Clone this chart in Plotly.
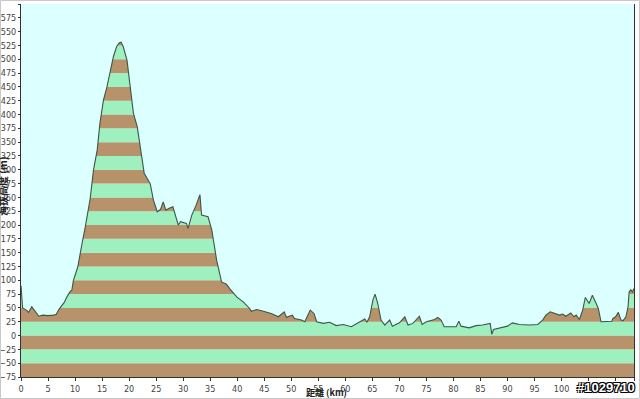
import plotly.graph_objects as go

# ---- data ----
dist_km = [0.0, 0.15, 0.3, 1.0, 1.4, 2.0, 2.5, 3.0, 3.3, 4.0, 5.0, 6.0, 6.5, 7.0, 7.5, 8.0, 8.5, 9.1, 9.4,
           9.7, 10.5, 10.9, 11.3, 11.9, 12.5, 12.8, 13.4, 14.1, 14.6, 15.25, 15.9, 16.4, 17.1, 17.7, 18.2,
           18.5, 18.9, 19.6, 20.2, 20.8, 21.5, 22.2, 22.8, 23.3, 23.6, 23.9, 24.5, 25.2, 25.8, 26.3, 26.8,
           27.3, 28.1, 28.5, 29.1, 29.5, 30.6, 30.9, 31.6, 32.4, 33.1, 33.4, 34.6, 35.3, 35.6, 36.2, 37.1,
           38.0, 38.6, 39.3, 39.9, 41.1, 42.3, 42.6, 43.6, 44.5, 46.0, 46.3, 47.6, 48.7, 49.1, 50.2, 50.6,
           51.9, 52.5, 52.9, 53.5, 54.2, 54.7, 55.9, 57.1, 58.3, 59.6, 61.1, 62.7, 63.6, 64.0, 64.5, 65.1,
           65.5, 66.0, 66.6, 67.3, 68.2, 68.7, 70.0, 71.0, 71.6, 72.5, 73.7, 74.2, 75.0, 76.5, 77.1, 77.7,
           78.3, 80.5, 81.0, 81.4, 82.9, 84.2, 85.4, 86.8, 87.1, 87.4, 88.5, 90.0, 90.9, 92.2, 94.0, 95.6,
           96.5, 97.1, 97.9, 98.7, 99.6, 100.2, 100.8, 101.7, 102.3, 102.7, 103.3, 103.9, 104.4, 105.1,
           105.7, 106.4, 106.8, 107.3, 108.2, 109.3, 109.5, 110.0, 110.5, 111.0, 111.4, 111.9, 112.3,
           112.5, 112.8, 113.1, 113.4]
elev_m = [90, 60, 50, 46, 42, 52, 45, 40, 35, 37, 36, 37, 38, 47, 53, 60, 70, 80, 82,
          100, 124, 149, 167, 197, 233, 248, 299, 336, 384, 426, 450, 475, 505, 523, 530,
          531, 523, 499, 450, 402, 378, 330, 293, 285, 281, 275, 245, 224, 228, 242, 227,
          230, 233, 221, 200, 206, 203, 194, 218, 236, 255, 218, 215, 191, 173, 136, 97,
          93, 85, 76, 70, 61, 49, 44, 47, 45, 41, 40, 34, 43, 33, 37, 31,
          28, 25, 34, 46, 40, 25, 22, 24, 18, 20, 16, 25, 30, 24, 34, 64,
          75, 58, 28, 19, 28, 17, 23, 34, 19, 22, 35, 20, 25, 29, 33, 28,
          16, 16, 26, 17, 14, 18, 19, 22, 2, 11, 13, 17, 23, 20, 19, 20,
          28, 37, 43, 40, 37, 39, 35, 41, 34, 37, 29, 46, 69, 58,
          73, 58, 49, 25, 26, 26, 31, 34, 42, 28, 27, 34, 52,
          79, 83, 79, 85]

x_tick_vals = [0, 5, 10, 15, 20, 25, 30, 35, 40, 45, 50, 55, 60, 65, 70, 75, 80, 85, 90, 95, 100, 105, 110, 113.4]
x_tick_text = ["0", "5", "10", "15", "20", "25", "30", "35", "40", "45", "50", "55", "60", "65", "70", "75",
               "80", "85", "90", "95", "100", "105", "110", "114"]
y_min, y_max, band_step = -75, 600, 25
y_tick_vals = list(range(y_min, y_max + 1, band_step))

x_title = "距離 (km)"
y_title = "海拔高度 (m)"
watermark = "#1029710"

BG = "#dcffff"
GREEN = "#9ff0bf"
BROWN = "#b8926a"
LINE = "#3c5646"
TICK_FONT = dict(family="Liberation Sans Narrow, DejaVu Sans Condensed, Arial Narrow, sans-serif",
                 size=9, color="#444444")

fig = go.Figure()

# striped bands under the profile
shapes = []
for lo in range(y_min, y_max, band_step):
    k = lo // band_step
    shapes.append(dict(type="rect", xref="paper", yref="y", x0=0, x1=1, y0=lo, y1=lo + band_step,
                       fillcolor=GREEN if k % 2 == 0 else BROWN, line=dict(width=0), layer="below"))
# thin light frame around the whole picture
shapes.append(dict(type="rect", xref="paper", yref="paper",
                   x0=-20.5 / 613, x1=1 + 5.5 / 613, y0=-21.5 / 373, y1=1 + 3.5 / 373,
                   line=dict(color="#c8c8c8", width=1), layer="above"))

fig.add_trace(go.Scatter(x=dist_km, y=elev_m, mode="lines", line=dict(width=0),
                         hoverinfo="skip", showlegend=False))
fig.add_trace(go.Scatter(x=dist_km, y=[y_max] * len(dist_km), mode="lines", line=dict(width=0),
                         fill="tonexty", fillcolor=BG, hoverinfo="skip", showlegend=False))
fig.add_trace(go.Scatter(x=dist_km, y=elev_m, mode="lines", line=dict(color=LINE, width=1.1),
                         showlegend=False))

fig.update_layout(
    width=640, height=399,
    margin=dict(l=21, r=6, t=4, b=22, autoexpand=False),
    paper_bgcolor="white", plot_bgcolor=BG,
    shapes=shapes,
    showlegend=False,
    xaxis=dict(range=[0, 113.4], tickvals=x_tick_vals, ticktext=x_tick_text, tickfont=TICK_FONT,
               ticks="outside", ticklen=3, tickcolor="#333333", showgrid=False, zeroline=False,
               showline=True, linecolor="#333333", linewidth=1, automargin=False),
    yaxis=dict(range=[y_min, y_max], tickvals=y_tick_vals, tickfont=TICK_FONT,
               ticks="outside", ticklen=2, tickcolor="#333333", showgrid=False, zeroline=False,
               showline=True, linecolor="#333333", linewidth=1, mirror=True, automargin=False),
    annotations=[
        dict(text=y_title, xref="paper", yref="paper", x=-0.029, y=0.51, textangle=-90,
             showarrow=False, xanchor="center", yanchor="middle",
             font=dict(family="Noto Sans CJK TC", size=10, color="#222222", weight="bold")),
        dict(text=x_title, xref="paper", yref="paper", x=0.499, y=-0.041, showarrow=False,
             xanchor="center", yanchor="middle",
             font=dict(family="Noto Sans CJK TC", size=9, color="#222222", weight="bold")),
        dict(text=watermark, xref="paper", yref="paper", x=0.954, y=-0.027, showarrow=False,
             xanchor="center", yanchor="middle",
             font=dict(family="Liberation Sans", size=13, color="white", weight="bold",
                       shadow="-1px -1px 0 #000, 1px -1px 0 #000, -1px 1px 0 #000, 1px 1px 0 #000")),
    ],
)

fig.write_html("out.html", config={"displayModeBar": False},
               post_script="document.body.style.margin='0';document.body.style.overflow='hidden';")
